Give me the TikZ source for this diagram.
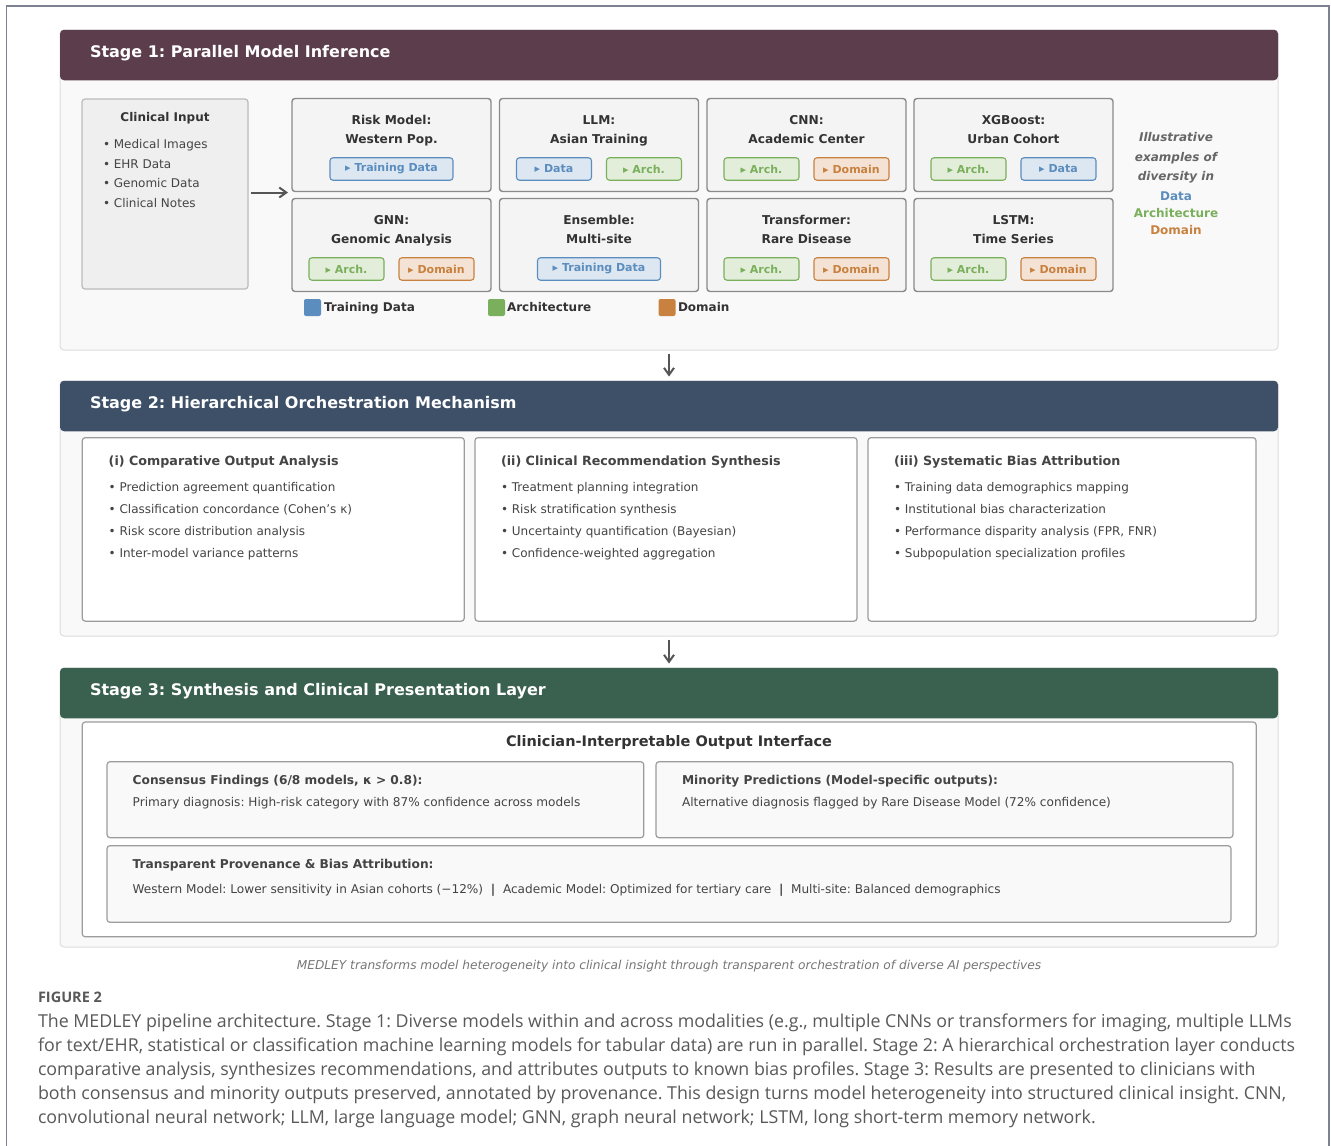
\documentclass[tikz,border=0pt]{standalone}
\usepackage{fontspec}
\setmainfont{DejaVu Sans}
\newfontfamily\capfont{Open Sans}
\usetikzlibrary{arrows.meta,calc}

\definecolor{stageone}{HTML}{5C3D4B}
\definecolor{stagetwo}{HTML}{3D5068}
\definecolor{stagethree}{HTML}{3A614F}
\definecolor{panelfill}{HTML}{F9F9F9}
\definecolor{panelline}{HTML}{DDDDDD}
\definecolor{inputfill}{HTML}{EFEFEF}
\definecolor{inputline}{HTML}{BBBBBB}
\definecolor{modelfill}{HTML}{F4F4F4}
\definecolor{modelline}{HTML}{8A8A8A}
\definecolor{boxline}{HTML}{9C9C9C}
\definecolor{datac}{HTML}{5B8DBE}
\definecolor{datafill}{HTML}{DCE7F2}
\definecolor{archc}{HTML}{7AAF5C}
\definecolor{archfill}{HTML}{E3EEDA}
\definecolor{domc}{HTML}{C8813F}
\definecolor{domfill}{HTML}{F4E3D5}
\definecolor{txtdark}{HTML}{333333}
\definecolor{txtmid}{HTML}{444444}
\definecolor{txtgray}{HTML}{666666}
\definecolor{tagline}{HTML}{777777}
\definecolor{framegray}{HTML}{7D8290}
\definecolor{captext}{HTML}{595959}
\definecolor{arrowc}{HTML}{555555}

\newcommand\fsz[1]{\fontsize{#1}{#1}\selectfont}

\tikzset{
  x=1pt, y=-1pt,
  txt/.style={inner sep=0pt, outer sep=0pt},
  header/.style={fill=#1, rounded corners=4pt, minimum width=1218pt, minimum height=50.5pt, inner sep=0pt},
  panel/.style={fill=panelfill, draw=panelline, line width=1pt, rounded corners=4pt, minimum width=1218pt, inner sep=0pt},
  headtext/.style={txt, anchor=mid west, text=white, font=\fsz{16}\bfseries},
  modelbox/.style={fill=modelfill, draw=modelline, line width=1.4pt, rounded corners=3pt, minimum width=199pt, minimum height=93pt, inner sep=0pt},
  mtitle/.style={txt, anchor=mid, text=txtdark, font=\fsz{12.2}\bfseries},
  tagbox/.style={line width=1.1pt, rounded corners=3pt, minimum height=22.5pt, inner sep=0pt, font=\fsz{11}\bfseries},
  datatag/.style={tagbox, fill=datafill, draw=datac, text=datac},
  archtag/.style={tagbox, fill=archfill, draw=archc, text=archc},
  domtag/.style={tagbox, fill=domfill, draw=domc, text=domc},
  legsq/.style={rounded corners=2pt, minimum size=17pt, inner sep=0pt, fill=#1},
  legtext/.style={txt, anchor=mid west, text=txtdark, font=\fsz{12}\bfseries},
  bullet/.style={txt, anchor=mid west, text=txtmid, font=\fsz{12}},
  subbox/.style={fill=white, draw=boxline, line width=1.2pt, rounded corners=3pt, inner sep=0pt},
  subtitle/.style={txt, anchor=mid west, text=txtmid, font=\fsz{12.7}\bfseries},
  outbox/.style={fill=panelfill, draw=boxline, line width=1.2pt, rounded corners=3pt, inner sep=0pt},
  smalltitle/.style={txt, anchor=mid west, text=txtmid, font=\fsz{12.2}\bfseries},
  smalltext/.style={txt, anchor=mid west, text=txtmid, font=\fsz{12.1}},
  sidetext/.style={txt, anchor=mid, font=\fsz{12}\bfseries},
  arr/.style={draw=arrowc, line width=2pt, -{Straight Barb[length=7pt,width=10pt,line width=2pt]}},
  capline/.style={txt, anchor=mid west, text=captext, font=\capfont\fsz{17.8}},
}

% one model card: name, centre x, centre y, first title line, second title line
\newcommand\modelcard[5]{%
  \node[modelbox] (#1) at (#2,#3) {};
  \node[mtitle] (#1-l1) at ($(#1)+(0,-23)$) {#4};
  \node[mtitle] (#1-l2) at ($(#1)+(0,-4)$) {#5};
}
% a pair of tags inside a model card: card, left style, left text, right style, right text
\newcommand\tagpair[5]{%
  \node[#2, minimum width=75pt] (#1-ta) at ($(#1)+(-45,24)$) {▸ #3};
  \node[#4, minimum width=75pt] (#1-tb) at ($(#1)+(45,24)$) {▸ #5};
}

\begin{document}
\frenchspacing
\begin{tikzpicture}
\useasboundingbox[fill=white] (0,0) rectangle (1331,1146);

% page frame
\draw[framegray, line width=1.2pt] (6.5,1146) -- (6.5,6) -- (1329,6) -- (1329,1146);

% ---------------- Stage 1 ----------------
\node[panel, minimum height=320pt] (p1) at (669,190) {};
\node[header=stageone] (h1) at (669,55) {};
\node[headtext] (h1t) at (90,55) {Stage 1: Parallel Model Inference};

\node[fill=inputfill, draw=inputline, line width=1.2pt, rounded corners=3pt,
      minimum width=166pt, minimum height=190pt, inner sep=0pt] (ci) at (165,194) {};
\node[txt, anchor=mid, text=txtdark, font=\fsz{12}\bfseries] (ci-t) at (165,119) {Clinical Input};
\node[bullet] (ci-b1) at (103,146) {• Medical Images};
\node[bullet] (ci-b2) at (103,165.5) {• EHR Data};
\node[bullet] (ci-b3) at (103,185) {• Genomic Data};
\node[bullet] (ci-b4) at (103,204.5) {• Clinical Notes};

\coordinate (fan) at (288,192.5);
\draw[arr, shorten <=2pt] (ci.east |- fan) -- (fan);

\modelcard{risk}{391.5}{145}{Risk Model:}{Western Pop.}
\node[datatag, minimum width=123pt] (risk-ta) at ($(risk)+(0,24)$) {▸ Training Data};
\modelcard{llm}{599}{145}{LLM:}{Asian Training}
\tagpair{llm}{datatag}{Data}{archtag}{Arch.}
\modelcard{cnn}{806.5}{145}{CNN:}{Academic Center}
\tagpair{cnn}{archtag}{Arch.}{domtag}{Domain}
\modelcard{xgb}{1013.5}{145}{XGBoost:}{Urban Cohort}
\tagpair{xgb}{archtag}{Arch.}{datatag}{Data}

\modelcard{gnn}{391.5}{245}{GNN:}{Genomic Analysis}
\tagpair{gnn}{archtag}{Arch.}{domtag}{Domain}
\modelcard{ens}{599}{245}{Ensemble:}{Multi-site}
\node[datatag, minimum width=123pt] (ens-ta) at ($(ens)+(0,24)$) {▸ Training Data};
\modelcard{trf}{806.5}{245}{Transformer:}{Rare Disease}
\tagpair{trf}{archtag}{Arch.}{domtag}{Domain}
\modelcard{lstm}{1013.5}{245}{LSTM:}{Time Series}
\tagpair{lstm}{archtag}{Arch.}{domtag}{Domain}

% legend
\node[legsq=datac] (lg1) at (312.5,307.5) {};
\node[legtext] (lg1t) at (324,308.5) {Training Data};
\node[legsq=archc] (lg2) at (496.5,307.5) {};
\node[legtext] (lg2t) at (507,308.5) {Architecture};
\node[legsq=domc] (lg3) at (667,307.5) {};
\node[legtext] (lg3t) at (678,308.5) {Domain};

% side note
\node[sidetext, text=txtgray, font=\fsz{12}\bfseries\itshape] (sn1) at (1176,139) {Illustrative};
\node[sidetext, text=txtgray, font=\fsz{12}\bfseries\itshape] (sn2) at (1176,158.5) {examples of};
\node[sidetext, text=txtgray, font=\fsz{12}\bfseries\itshape] (sn3) at (1176,178) {diversity in};
\node[sidetext, text=datac] (sn4) at (1176,197.5) {Data};
\node[sidetext, text=archc] (sn5) at (1176,215) {Architecture};
\node[sidetext, text=domc] (sn6) at (1176,232) {Domain};

% ---------------- Stage 2 ----------------
\node[panel, minimum height=255pt] (p2) at (669,508.5) {};
\node[header=stagetwo] (h2) at (669,406) {};
\node[headtext] (h2t) at (90,406) {Stage 2: Hierarchical Orchestration Mechanism};

\draw[arr, shorten <=3pt, shorten >=4pt] (p1.south) -- (h2.north);

\node[subbox, minimum width=382pt, minimum height=183.5pt] (s1) at (273.3,529.4) {};
\node[subbox, minimum width=382pt, minimum height=183.5pt] (s2) at (666,529.4) {};
\node[subbox, minimum width=388pt, minimum height=183.5pt] (s3) at (1062,529.4) {};

\node[subtitle] (s1t) at (108.7,463) {(i) Comparative Output Analysis};
\node[bullet] (s1b1) at (108.7,488.7) {• Prediction agreement quantification};
\node[bullet] (s1b2) at (108.7,510.7) {• Classification concordance (Cohen's κ)};
\node[bullet] (s1b3) at (108.7,532.7) {• Risk score distribution analysis};
\node[bullet] (s1b4) at (108.7,554.7) {• Inter-model variance patterns};

\node[subtitle] (s2t) at (501,463) {(ii) Clinical Recommendation Synthesis};
\node[bullet] (s2b1) at (501,488.7) {• Treatment planning integration};
\node[bullet] (s2b2) at (501,510.7) {• Risk stratification synthesis};
\node[bullet] (s2b3) at (501,532.7) {• Uncertainty quantification (Bayesian)};
\node[bullet] (s2b4) at (501,554.7) {• Confidence-weighted aggregation};

\node[subtitle] (s3t) at (894,463) {(iii) Systematic Bias Attribution};
\node[bullet] (s3b1) at (894,488.7) {• Training data demographics mapping};
\node[bullet] (s3b2) at (894,510.7) {• Institutional bias characterization};
\node[bullet] (s3b3) at (894,532.7) {• Performance disparity analysis (FPR, FNR)};
\node[bullet] (s3b4) at (894,554.7) {• Subpopulation specialization profiles};

% ---------------- Stage 3 ----------------
\node[panel, minimum height=279pt] (p3) at (669,807.5) {};
\node[header=stagethree] (h3) at (669,693) {};
\node[headtext] (h3t) at (90,693) {Stage 3: Synthesis and Clinical Presentation Layer};

\draw[arr, shorten <=3pt, shorten >=4pt] (p2.south) -- (h3.north);

\node[subbox, minimum width=1174pt, minimum height=214.7pt] (ob) at (669.2,829.4) {};
\node[txt, anchor=mid, text=txtdark, font=\fsz{14.5}\bfseries] (obt) at (669,744) {Clinician-Interpretable Output Interface};

\node[outbox, minimum width=536.7pt, minimum height=76pt] (cb) at (375.4,799.7) {};
\node[smalltitle] (cbt) at (132.7,781.8) {Consensus Findings (6/8 models, κ > 0.8):};
\node[smalltext] (cbx) at (132.7,803.7) {Primary diagnosis: High-risk category with 87\% confidence across models};

\node[outbox, minimum width=577pt, minimum height=76pt] (mb) at (944.5,799.7) {};
\node[smalltitle] (mbt) at (682,781.8) {Minority Predictions (Model-specific outputs):};
\node[smalltext] (mbx) at (682,803.7) {Alternative diagnosis flagged by Rare Disease Model (72\% confidence)};

\node[outbox, minimum width=1124pt, minimum height=76.6pt] (pb) at (669,884) {};
\node[smalltitle] (pbt) at (132.7,866) {Transparent Provenance \& Bias Attribution:};
\node[smalltext] (pbx) at (132.7,890.5) {Western Model: Lower sensitivity in Asian cohorts (−12\%)~~\textbf{|}~~Academic Model: Optimized for tertiary care~~\textbf{|}~~Multi-site: Balanced demographics};

% tagline
\node[txt, anchor=mid, text=tagline, font=\fsz{12.2}\itshape] (tl) at (669,966.5)
  {MEDLEY transforms model heterogeneity into clinical insight through transparent orchestration of diverse AI perspectives};

% ---------------- caption ----------------
\node[txt, anchor=mid west, text=captext, font=\capfont\fsz{14.5}\bfseries] (fig) at (38,1000) {FIGURE 2};
\node[capline] (c1) at (38,1024.5) {The MEDLEY pipeline architecture. Stage 1: Diverse models within and across modalities (e.g., multiple CNNs or transformers for imaging, multiple LLMs};
\node[capline] (c2) at (38,1048.5) {for text/EHR, statistical or classification machine learning models for tabular data) are run in parallel. Stage 2: A hierarchical orchestration layer conducts};
\node[capline] (c3) at (38,1072.5) {comparative analysis, synthesizes recommendations, and attributes outputs to known bias profiles. Stage 3: Results are presented to clinicians with};
\node[capline] (c4) at (38,1096.5) {both consensus and minority outputs preserved, annotated by provenance. This design turns model heterogeneity into structured clinical insight. CNN,};
\node[capline] (c5) at (38,1120.5) {convolutional neural network; LLM, large language model; GNN, graph neural network; LSTM, long short-term memory network.};

\end{tikzpicture}
\end{document}
